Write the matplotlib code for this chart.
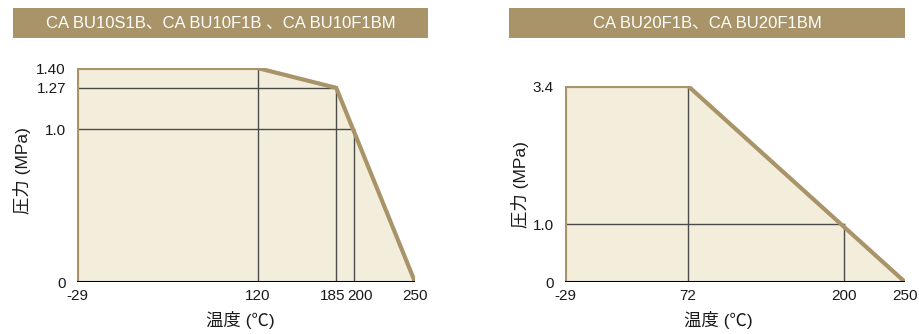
import numpy as np
import matplotlib.pyplot as plt
import matplotlib.transforms as mtransforms

plt.rcParams['font.family'] = ['Liberation Sans', 'Noto Sans CJK JP', 'DejaVu Sans']

# left chart: CA BU10...
left_title = "CA BU10S1B、CA BU10F1B 、CA BU10F1BM"
left_temp = [-29, 120, 185, 250]
left_pres = [1.40, 1.40, 1.27, 0]
left_xticks = [-29, 120, 185, 200, 250]
left_yticks = [0, 1.0, 1.27, 1.40]
left_yticklabels = ["0", "1.0", "1.27", "1.40"]
# guide lines (x, y) corners
left_guides = [(120, 1.40), (185, 1.27), (200, 1.0)]

# right chart: CA BU20...
right_title = "CA BU20F1B、CA BU20F1BM"
right_temp = [-29, 72, 250]
right_pres = [3.4, 3.4, 0]
right_xticks = [-29, 72, 200, 250]
right_yticks = [0, 1.0, 3.4]
right_yticklabels = ["0", "1.0", "3.4"]
right_guides = [(72, 3.4), (200, 1.0)]

tan = '#a89468'
fill = '#f3eedc'
guide = '#4a4a4a'
txt_c = '#1a1a1a'

fig = plt.figure(figsize=(9.2, 3.34), dpi=100)


def draw(ax, temp, pres, xticks, yticks, yticklabels, guides, ytop):
    x0 = temp[0]
    xs = [x0] + temp + [temp[-1]]
    ys = [0] + pres + [0]
    ax.fill(xs, ys, color=fill, lw=0, zorder=1)
    for gx, gy in guides:
        ax.plot([gx, gx], [0, gy], color=guide, lw=1, zorder=2)
        if gy < max(pres):
            ax.plot([x0, gx], [gy, gy], color=guide, lw=1, zorder=2)
    ax.plot([x0] + temp, [0] + pres, color=tan, lw=3, zorder=3, solid_joinstyle='miter')
    ax.plot([x0, temp[-1]], [0, 0], color='black', lw=1.5, zorder=4)
    ax.set_xlim(x0, temp[-1])
    ax.set_ylim(0, ytop)
    ax.set_xticks(xticks)
    ax.set_xticklabels([str(t) for t in xticks])
    ax.set_yticks(yticks)
    ax.set_yticklabels(yticklabels)
    ax.tick_params(length=0, labelsize=11, labelcolor=txt_c)
    ax.tick_params(axis='x', pad=5)
    ax.tick_params(axis='y', pad=8)
    for s in ax.spines.values():
        s.set_visible(False)
    ax.patch.set_alpha(0)


ax1 = fig.add_axes([77 / 920, 52 / 334, 338 / 920, 214 / 334])
draw(ax1, left_temp, left_pres, left_xticks, left_yticks, left_yticklabels, left_guides, 1.40)
ax1.set_ylabel("圧力 (MPa)", fontsize=12.5, color=txt_c, va='center')
ax1.yaxis.set_label_coords(-0.163, 0.519)
ax1.set_xlabel("温度 (℃)", fontsize=12.5, color=txt_c, va='center')
ax1.xaxis.set_label_coords(0.482, -0.178)
# nudge the crowded 185 / 200 labels apart
for lab, dx in zip(ax1.get_xticklabels()[2:4], [-4, 6]):
    lab.set_transform(lab.get_transform() + mtransforms.ScaledTranslation(dx / 100, 0, fig.dpi_scale_trans))

ax2 = fig.add_axes([565 / 920, 52 / 334, 340 / 920, 196 / 334])
draw(ax2, right_temp, right_pres, right_xticks, right_yticks, right_yticklabels, right_guides, 3.4)
ax2.set_ylabel("圧力 (MPa)", fontsize=12.5, color=txt_c, va='center')
ax2.yaxis.set_label_coords(-0.132, 0.495)
ax2.set_xlabel("温度 (℃)", fontsize=12.5, color=txt_c, va='center')
ax2.xaxis.set_label_coords(0.45, -0.194)

# title banners
for (l, r, txt) in [(13, 428, left_title), (509, 905, right_title)]:
    fig.patches.append(plt.Rectangle((l / 920, 1 - 38 / 334), (r - l) / 920, 30 / 334,
                                     transform=fig.transFigure, color=tan, lw=0))
    fig.text((l + r) / 2 / 920, 1 - 23 / 334, txt, color='white', fontsize=12,
             ha='center', va='center')

fig.savefig('out.png', dpi=100)
